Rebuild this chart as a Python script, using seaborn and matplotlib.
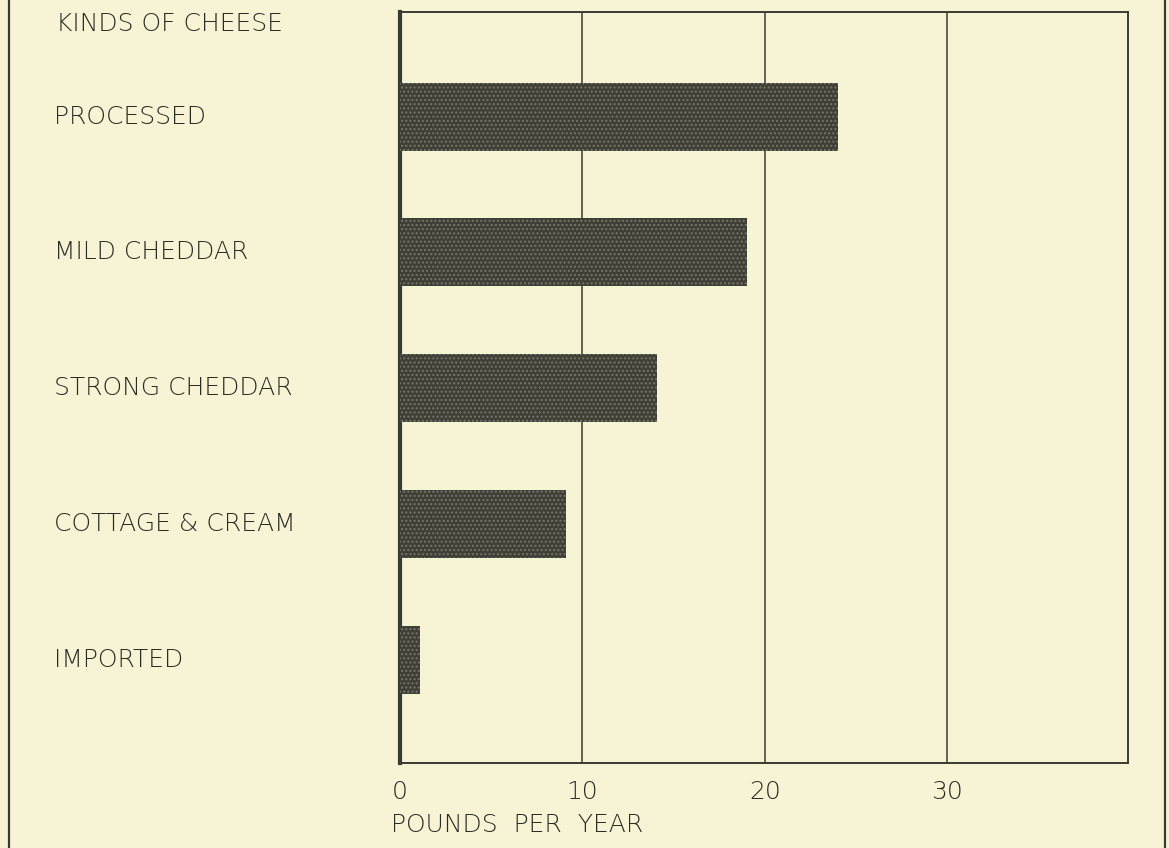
import numpy as np
import pandas as pd
import matplotlib
matplotlib.use("Agg")
import matplotlib.pyplot as plt
import matplotlib.transforms as mtransforms
from matplotlib.lines import Line2D
import seaborn as sns

# cheese consumption, pounds per year
cheese_kinds = ["PROCESSED", "MILD CHEDDAR", "STRONG CHEDDAR", "COTTAGE & CREAM", "IMPORTED"]
pounds = [24, 19, 14.1, 9.1, 1.1]
x_ticks = [0, 10, 20, 30]

paper = "#f7f4d5"
ink = "#3b3a32"
text_ink = "#2c2b24"

sns.set_theme(style="white")
plt.rcParams["font.family"] = ["DejaVu Sans"]
label_font = dict(fontsize=18, color=text_ink, fontweight="light")

df = pd.DataFrame({"kind": cheese_kinds, "pounds": pounds})

fig = plt.figure(figsize=(11.69, 8.48), dpi=100, facecolor=paper)
ax = fig.add_axes([400 / 1169, 1 - 763 / 848, 728 / 1169, 751 / 848])
ax.set_facecolor(paper)

sns.barplot(data=df, x="pounds", y="kind", orient="h", color="#403f36",
            width=0.5, saturation=1, ax=ax, zorder=3)
for bar in ax.patches:
    bar.set_hatch("....")
    bar.set_edgecolor("#77756a")
    bar.set_linewidth(0)

ax.set_xlim(0, 39.9)
ax.set_ylim(4.76, -0.77)

ax.set_xticks(x_ticks)
ax.set_xticklabels([str(t) for t in x_ticks], **label_font)
ax.tick_params(axis="x", length=0, pad=12)

ax.set_yticks([])
ax.set_ylabel("")
ax.set_xlabel("POUNDS  PER  YEAR", **label_font)
ax.xaxis.set_label_coords(-0.012, -0.067)
ax.xaxis.label.set_horizontalalignment("left")

for x in x_ticks[1:]:
    ax.axvline(x, color=ink, lw=1.1, zorder=2)

for side, spine in ax.spines.items():
    spine.set_visible(True)
    spine.set_color(ink)
    spine.set_linewidth(1.4)
ax.spines["left"].set_linewidth(3)

# category labels, left aligned in the margin
trans = mtransforms.blended_transform_factory(ax.transAxes, ax.transData)
for i, name in enumerate(cheese_kinds):
    ax.text(-0.475, i, name, transform=trans, ha="left", va="center", **label_font)
ax.text(-0.473, -0.68, "KINDS OF CHEESE", transform=trans, ha="left",
        va="center", **label_font)

# outer frame of the page
fig.add_artist(Line2D([9 / 1169, 9 / 1169], [0, 1], color=ink, lw=1.6,
                      transform=fig.transFigure))
fig.add_artist(Line2D([1165 / 1169, 1165 / 1169], [0, 1], color=ink, lw=1.6,
                      transform=fig.transFigure))

fig.savefig("out.png", dpi=100, facecolor=paper)
